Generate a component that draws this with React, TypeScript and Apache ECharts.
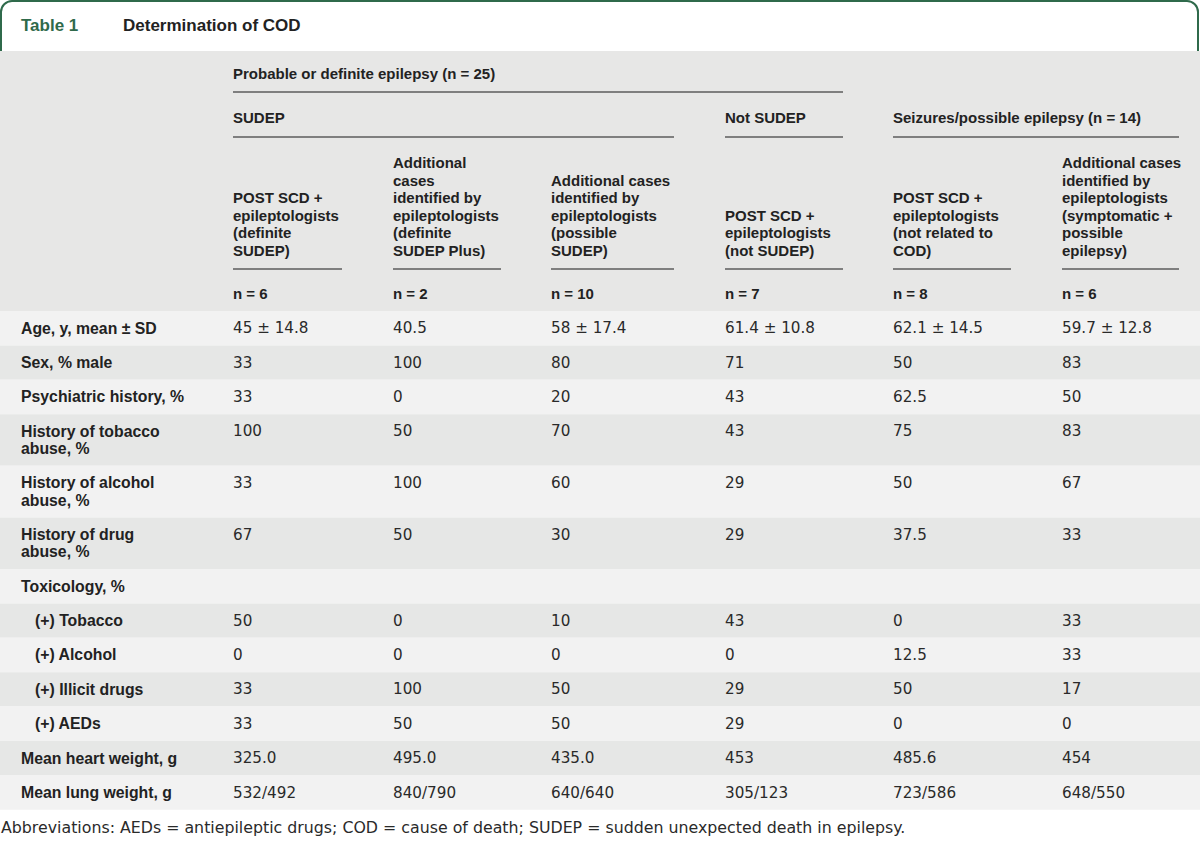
import React, { useEffect, useRef } from "react";
import * as echarts from "echarts";

const titleNumber = "Table 1";
const titleText = "Determination of COD";

const groupTop = "Probable or definite epilepsy (n = 25)";
const groupSub = ["SUDEP", "Not SUDEP", "Seizures/possible epilepsy (n = 14)"];

const columnHeaders = [
  "POST SCD +\nepileptologists\n(definite\nSUDEP)",
  "Additional\ncases\nidentified by\nepileptologists\n(definite\nSUDEP Plus)",
  "Additional cases\nidentified by\nepileptologists\n(possible\nSUDEP)",
  "POST SCD +\nepileptologists\n(not SUDEP)",
  "POST SCD +\nepileptologists\n(not related to\nCOD)",
  "Additional cases\nidentified by\nepileptologists\n(symptomatic +\npossible\nepilepsy)",
];
const columnN = ["n = 6", "n = 2", "n = 10", "n = 7", "n = 8", "n = 6"];

const rowLabels = [
  "Age, y, mean ± SD",
  "Sex, % male",
  "Psychiatric history, %",
  "History of tobacco\nabuse, %",
  "History of alcohol\nabuse, %",
  "History of drug\nabuse, %",
  "Toxicology, %",
  "(+) Tobacco",
  "(+) Alcohol",
  "(+) Illicit drugs",
  "(+) AEDs",
  "Mean heart weight, g",
  "Mean lung weight, g",
];
const indentedRows = [false, false, false, false, false, false, false, true, true, true, true, false, false];

const colDefiniteSudep = ["45 ± 14.8", "33", "33", "100", "33", "67", "", "50", "0", "33", "33", "325.0", "532/492"];
const colSudepPlus = ["40.5", "100", "0", "50", "100", "50", "", "0", "0", "100", "50", "495.0", "840/790"];
const colPossibleSudep = ["58 ± 17.4", "80", "20", "70", "60", "30", "", "10", "0", "50", "50", "435.0", "640/640"];
const colNotSudep = ["61.4 ± 10.8", "71", "43", "43", "29", "29", "", "43", "0", "29", "29", "453", "305/123"];
const colNotRelated = ["62.1 ± 14.5", "50", "62.5", "75", "50", "37.5", "", "0", "12.5", "50", "0", "485.6", "723/586"];
const colSymptomatic = ["59.7 ± 12.8", "83", "50", "83", "67", "33", "", "33", "33", "17", "0", "454", "648/550"];

const footnote =
  "Abbreviations: AEDs = antiepileptic drugs; COD = cause of death; SUDEP = sudden unexpected death in epilepsy.";

export default function App() {
  const ref = useRef<HTMLDivElement>(null);

  useEffect(() => {
    document.body.style.margin = "0";
    if (!ref.current) return;
    const chart = echarts.init(ref.current, null, { renderer: "svg", width: 1200, height: 845 });

    const W = 1200;
    const green = "#2f6a4b";
    const textColor = "#222222";
    const lineColor = "#5c5c5c";
    const boldFont = "'Liberation Sans', Arial, sans-serif";
    const regFont = "'DejaVu Sans', sans-serif";
    const colX = [233, 393, 551, 725, 893, 1062];
    const colEnd = [342, 501, 674, 843, 1011, 1179];
    const columns = [colDefiniteSudep, colSudepPlus, colPossibleSudep, colNotSudep, colNotRelated, colSymptomatic];
    const lh = 17.2;

    const els: any[] = [];
    els.push({ type: "rect", shape: { x: 0, y: 0, width: W, height: 845 }, style: { fill: "#ffffff" } });
    els.push({
      type: "rect",
      shape: { x: 1, y: 1, width: W - 3, height: 70, r: [11, 11, 0, 0] },
      style: { fill: "#ffffff", stroke: green, lineWidth: 2 },
    });
    els.push({
      type: "text",
      x: 21,
      y: 25,
      style: { text: titleNumber, fill: green, fontFamily: boldFont, fontWeight: "bold", fontSize: 17, verticalAlign: "middle" },
    });
    els.push({
      type: "text",
      x: 123,
      y: 25,
      style: { text: titleText, fill: textColor, fontFamily: boldFont, fontWeight: "bold", fontSize: 17, verticalAlign: "middle" },
    });
    els.push({ type: "rect", shape: { x: 0, y: 51, width: W, height: 260 }, style: { fill: "#e7e7e6" } });

    const hText = (t: string, x: number, y: number, va = "middle") => ({
      type: "text",
      x,
      y,
      style: {
        text: t,
        fill: textColor,
        fontFamily: boldFont,
        fontWeight: "bold",
        fontSize: 15,
        lineHeight: 17.5,
        verticalAlign: va,
      },
    });
    const hLine = (x1: number, x2: number, y: number) => ({
      type: "line",
      shape: { x1, y1: y, x2, y2: y },
      style: { stroke: lineColor, lineWidth: 1.5 },
    });

    els.push(hText(groupTop, colX[0], 73));
    els.push(hLine(colX[0], colEnd[3], 92));
    els.push(hText(groupSub[0], colX[0], 117));
    els.push(hText(groupSub[1], colX[3], 117));
    els.push(hText(groupSub[2], colX[4], 117));
    els.push(hLine(colX[0], colEnd[2], 137));
    els.push(hLine(colX[3], colEnd[3], 137));
    els.push(hLine(colX[4], colEnd[5], 137));
    columnHeaders.forEach((h, i) => {
      els.push(hText(h, colX[i], 259, "bottom"));
      els.push(hLine(colX[i], colEnd[i], 269));
      els.push(hText(columnN[i], colX[i], 293));
    });

    let y = 311;
    rowLabels.forEach((label, r) => {
      const lines = label.split("\n").length;
      const h = lh * (lines + 1);
      els.push({
        type: "rect",
        shape: { x: 0, y, width: W, height: h },
        style: { fill: r % 2 === 0 ? "#f2f2f2" : "#e6e7e6" },
      });
      els.push({
        type: "text",
        x: indentedRows[r] ? 35 : 21,
        y: y + lh / 2,
        style: {
          text: label,
          fill: textColor,
          fontFamily: boldFont,
          fontWeight: "bold",
          fontSize: 15.8,
          lineHeight: lh,
          verticalAlign: "top",
        },
      });
      columns.forEach((col, c) => {
        if (!col[r]) return;
        els.push({
          type: "text",
          x: colX[c],
          y: y + lh / 2,
          style: {
            text: col[r],
            fill: "#2a2a2a",
            fontFamily: regFont,
            fontSize: 15.2,
            lineHeight: lh,
            verticalAlign: "top",
          },
        });
      });
      y += h;
    });

    els.push({
      type: "text",
      x: 1,
      y: 827,
      style: { text: footnote, fill: "#2a2a2a", fontFamily: regFont, fontSize: 15.8, verticalAlign: "middle" },
    });

    chart.setOption({ animation: false, graphic: { elements: els } });
    return () => chart.dispose();
  }, []);

  return <div ref={ref} style={{ width: 1200, height: 845 }} />;
}
